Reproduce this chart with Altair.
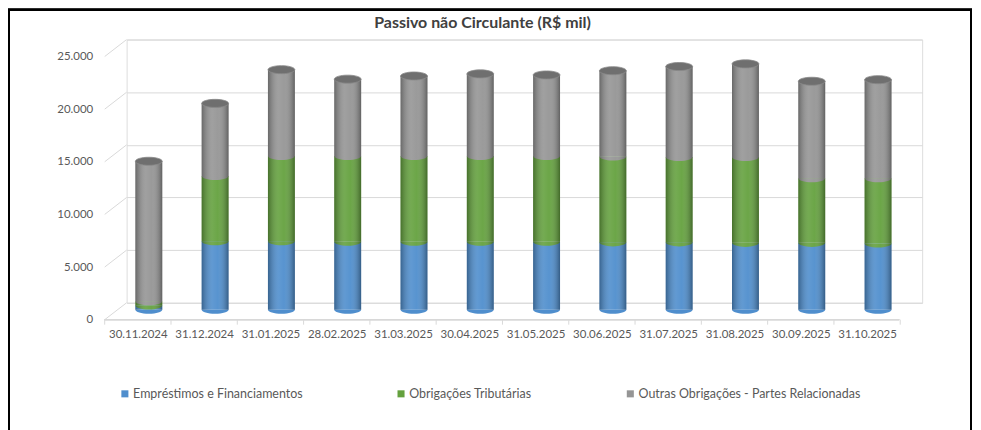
import altair as alt
import pandas as pd

dates = ["30.11.2024", "31.12.2024", "31.01.2025", "28.02.2025", "31.03.2025", "30.04.2025",
         "31.05.2025", "30.06.2025", "31.07.2025", "31.08.2025", "30.09.2025", "31.10.2025"]
series_names = ["Empréstimos e Financiamentos", "Obrigações Tributárias",
                "Outras Obrigações - Partes Relacionadas"]
emprestimos = [400, 6500, 6500, 6450, 6450, 6450, 6450, 6400, 6400, 6350, 6350, 6300]
obrigacoes = [400, 6200, 8100, 8150, 8150, 8150, 8150, 8150, 8100, 8150, 6150, 6200]
outras = [13300, 6900, 8200, 7300, 7600, 7800, 7700, 8150, 8600, 8850, 9200, 9350]
y_ticks = [0, 5000, 10000, 15000, 20000, 25000]
title_text = ["Passivo não Circulante (R$ mil)"]
colors = ["#4f8ecd", "#64a13e", "#959595"]

rows = []
for i, d in enumerate(dates):
    start = 0
    for s, vals in zip(series_names, [emprestimos, obrigacoes, outras]):
        rows.append({"date": d, "series": s, "start": start, "end": start + vals[i]})
        start += vals[i]
long_df = pd.DataFrame(rows)
tot_df = pd.DataFrame({"date": dates,
                       "total": [a + b + c for a, b, c in zip(emprestimos, obrigacoes, outras)]})
tick_df = pd.DataFrame({"v": y_ticks})
title_df = pd.DataFrame({"t": title_text})

W, H = 798, 264
STEP = W / len(dates)
DX, DY = -11, 7
BW = 27
FONT = "Lato"
GRAY = "#d9d9d9"

xenc = alt.X("date:N", sort=dates, scale=alt.Scale(paddingInner=0, paddingOuter=0),
             axis=alt.Axis(title=None, labelAngle=0, domain=False, ticks=True, tickSize=5,
                           tickOpacity=0, tickBand="extent", tickOffset=-22,
                           labelOffset=-22, offset=17,
                           labelPadding=4, labelFont=FONT, labelFontSize=11.5,
                           labelColor="#595959", grid=False))
yscale = alt.Scale(domain=[0, 25000], nice=False)
yaxis = alt.Axis(title=None, values=y_ticks, grid=True, gridColor=GRAY, domain=False,
                 ticks=False, labelOffset=17, labelPadding=34, labelFont=FONT,
                 labelFontSize=11.5, labelColor="#595959",
                 labelExpr="replace(format(datum.value, ','), ',', '.')")
cscale = alt.Scale(domain=series_names, range=colors)

base = alt.Chart(long_df)

bars = base.mark_bar(width=BW, xOffset=DX, x2Offset=DX, yOffset=DY, y2Offset=DY).encode(
    x=xenc,
    y=alt.Y("start:Q", scale=yscale, axis=yaxis),
    y2="end:Q",
    color=alt.Color("series:N", scale=cscale, sort=series_names,
                    legend=alt.Legend(title=None, orient="none", legendX=-8, legendY=349,
                                      direction="horizontal", symbolType="square",
                                      symbolSize=50, symbolStrokeWidth=0,
                                      labelFont=FONT, labelFontSize=12.5, labelLimit=0,
                                      labelColor="#595959", columnPadding=92,
                                      labelOffset=2)),
    order=alt.Order("start:Q"),
)

lower_half = "M-1,0A1,0.3,0,0,0,1,0Z"
ellipse = "M-1,0A1,0.3,0,1,1,1,0A1,0.3,0,1,1,-1,0Z"

caps = base.mark_point(shape=lower_half, size=BW * BW, filled=True, opacity=1,
                       strokeWidth=0, xOffset=DX, yOffset=DY).encode(
    x=xenc,
    y=alt.Y("start:Q", scale=yscale, axis=yaxis),
    fill=alt.Fill("series:N", scale=cscale, legend=None),
)

shade = alt.Chart(tot_df).mark_bar(
    width=BW, xOffset=DX, x2Offset=DX, yOffset=DY, y2Offset=DY,
    color=alt.Gradient(gradient="linear", x1=0, x2=1, y1=0, y2=0, stops=[
        alt.GradientStop(color="rgba(0,0,0,0.30)", offset=0),
        alt.GradientStop(color="rgba(255,255,255,0.10)", offset=0.4),
        alt.GradientStop(color="rgba(255,255,255,0.05)", offset=0.6),
        alt.GradientStop(color="rgba(0,0,0,0.35)", offset=1),
    ])).encode(
    x=xenc,
    y=alt.Y("total:Q", scale=yscale, axis=yaxis),
    y2=alt.datum(0),
)

top = alt.Chart(tot_df).mark_point(shape=ellipse, size=BW * BW, filled=True, opacity=1,
                                   color="#6f6f6f", stroke="#8a8a8a", strokeWidth=0.8,
                                   xOffset=DX, yOffset=DY).encode(
    x=xenc,
    y=alt.Y("total:Q", scale=yscale, axis=yaxis),
)

side = alt.Chart(tick_df).mark_rule(color=GRAY, yOffset=17, y2Offset=0).encode(
    x=alt.value(-22), x2=alt.value(0),
    y=alt.Y("v:Q", scale=yscale, axis=yaxis), y2=alt.Y2("v:Q"),
)

floor = alt.Chart(tick_df).mark_rule(color=GRAY).encode(
    x=alt.value(-22), x2=alt.value(W - 23), y=alt.value(H + 17),
)

xticks = alt.Chart(tot_df).mark_rule(color=GRAY, xOffset=-22 - STEP / 2).encode(
    x=xenc, y=alt.value(H + 17), y2=alt.value(H + 22),
)
last_tick = alt.Chart(title_df).mark_rule(color=GRAY).encode(
    x=alt.value(W - 22), y=alt.value(H + 17), y2=alt.value(H + 22),
)

frame = alt.Chart(tick_df).mark_rect(fill=None, stroke="black", strokeWidth=2).encode(
    x=alt.value(-118), x2=alt.value(W + 49), y=alt.value(-30), y2=alt.value(H + 300),
)

title = alt.Chart(title_df).mark_text(font=FONT, fontSize=16, fontWeight="bold",
                                      color="#404040", align="center",
                                      baseline="middle").encode(
    x=alt.value(357), y=alt.value(-17), text="t:N",
)

chart = alt.layer(bars, side, floor, xticks, last_tick, caps, shade, top, frame,
                  title).properties(
    width=W, height=H,
    autosize=alt.AutoSizeParams(type="none"),
    padding={"left": 119, "top": 31, "right": 51, "bottom": 127},
).configure_view(stroke=None).configure(background="white")

chart.save("out.html", embed_options={"renderer": "svg", "actions": False})
